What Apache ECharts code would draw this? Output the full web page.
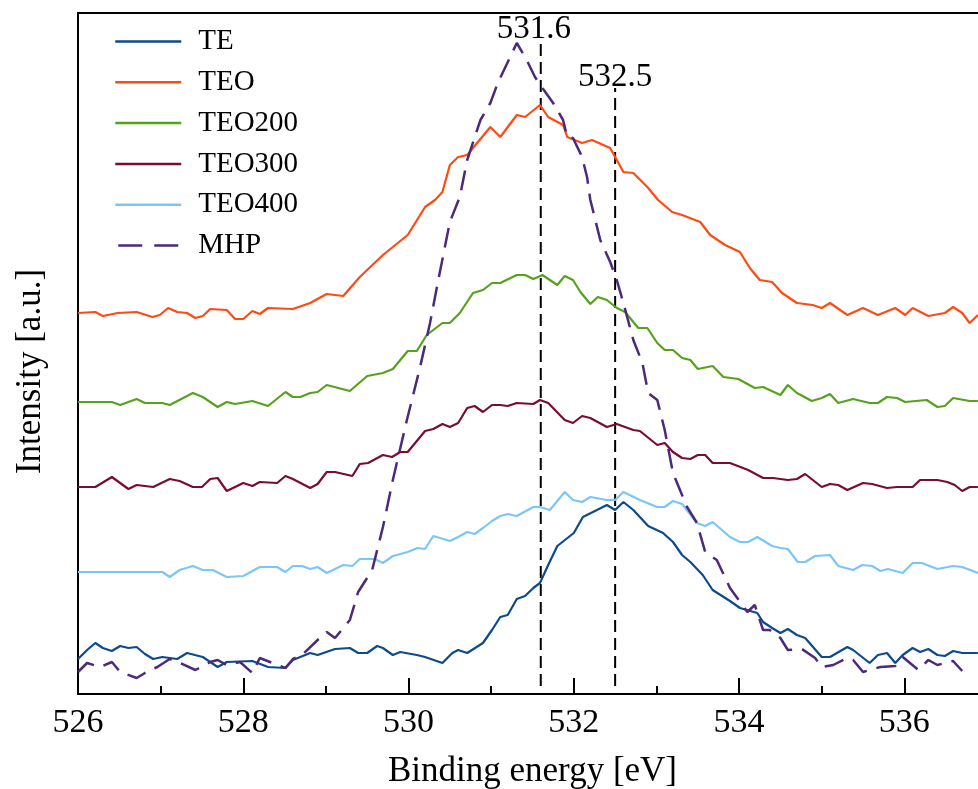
<!DOCTYPE html>
<html>
<head>
<meta charset="utf-8">
<script src="https://cdn.jsdelivr.net/npm/echarts@6/dist/echarts.min.js"></script>
<style>
html,body{margin:0;padding:0;background:#fff;overflow:hidden;}
#chart{width:978px;height:789px;}
</style>
</head>
<body>
<div id="chart"></div>
<script>
// ---- data (binding energy in eV, intensity in arbitrary units) ----
const teX = [526.00,526.11,526.21,526.30,526.41,526.51,526.61,526.71,526.81,526.91,527.02,527.20,527.32,527.51,527.69,527.80,528.11,528.30,528.51,528.60,528.81,528.90,529.11,529.29,529.39,529.50,529.62,529.69,529.81,529.90,530.10,530.20,530.41,530.53,530.60,530.71,530.90,531.01,531.11,531.20,531.31,531.41,531.51,531.59,531.69,531.80,532.00,532.11,532.28,532.40,532.50,532.60,532.72,532.90,533.08,533.20,533.31,533.41,533.56,533.68,533.89,534.01,534.22,534.29,534.40,534.50,534.59,534.70,534.80,535.00,535.10,535.31,535.38,535.58,535.68,535.79,535.89,535.98,536.10,536.19,536.29,536.40,536.49,536.59,536.70,536.89];
const teY = [35,44,51,46,43,48,46,47,40,35,37,35,41,37,27,32,33,27,26,34,41,39,45,46,41,41,48,46,39,42,39,37,31,41,44,41,51,64,77,79,95,98,106,111,129,148,161,177,184,189,184,192,184,168,161,152,139,132,119,104,93,86,81,72,66,61,65,59,56,37,37,47,44,31,39,41,31,39,46,42,45,39,38,43,41,41];

const teoX = [526.00,526.21,526.30,526.48,526.71,526.90,526.99,527.09,527.20,527.32,527.42,527.51,527.60,527.80,527.90,528.00,528.11,528.20,528.30,528.60,528.81,529.01,529.21,529.41,529.69,529.99,530.20,530.32,530.41,530.50,530.60,530.71,530.99,531.11,531.31,531.41,531.59,531.69,531.87,531.92,532.10,532.22,532.44,532.60,532.72,532.89,533.02,533.19,533.31,533.53,533.65,533.83,534.01,534.13,534.25,534.40,534.52,534.70,534.89,535.00,535.10,535.31,535.50,535.68,535.89,536.01,536.10,536.29,536.49,536.59,536.70,536.79,536.89];
const teoY = [381,382,378,381,382,377,379,386,382,381,376,378,385,384,375,375,383,380,386,385,391,400,398,417,439,459,487,494,502,529,537,539,567,557,579,577,589,577,569,557,551,554,546,522,521,507,494,482,479,472,459,449,442,426,414,412,401,391,389,386,391,379,386,379,386,379,386,378,381,387,381,371,379];

const teo200X = [526.00,526.41,526.51,526.71,526.81,527.02,527.11,527.39,527.51,527.69,527.80,527.90,528.11,528.30,528.51,528.60,528.69,528.81,528.90,529.01,529.29,529.50,529.69,529.81,529.99,530.10,530.22,530.41,530.50,530.62,530.78,530.90,531.01,531.11,531.31,531.41,531.51,531.62,531.80,531.89,531.99,532.08,532.20,532.29,532.40,532.52,532.62,532.78,532.89,533.01,533.10,533.20,533.31,533.41,533.50,533.68,533.81,533.99,534.19,534.29,534.50,534.59,534.70,534.88,535.00,535.10,535.20,535.38,535.58,535.68,535.79,535.91,536.01,536.27,536.40,536.49,536.59,536.79,536.89];
const teo200Y = [292,292,289,295,291,291,289,301,297,287,292,290,293,288,302,297,297,301,302,309,303,318,321,325,343,343,359,371,371,381,401,404,411,411,419,419,415,419,409,418,414,402,390,397,394,386,382,366,366,351,344,344,336,334,325,328,317,315,306,307,299,309,301,293,296,300,291,295,291,291,297,296,292,294,287,288,296,293,293];

const teo300X = [526.00,526.21,526.41,526.61,526.71,526.91,527.11,527.23,527.39,527.50,527.60,527.69,527.80,528.00,528.11,528.20,528.41,528.51,528.60,528.81,528.90,529.01,529.11,529.32,529.41,529.51,529.69,529.80,529.90,529.99,530.20,530.30,530.41,530.50,530.60,530.71,530.80,530.90,531.01,531.11,531.20,531.31,531.51,531.59,531.69,531.89,531.99,532.10,532.20,532.40,532.52,532.72,532.80,533.01,533.10,533.20,533.31,533.41,533.50,533.59,533.68,533.89,534.11,534.29,534.41,534.59,534.70,534.80,535.00,535.10,535.20,535.31,535.50,535.61,535.79,535.91,536.10,536.19,536.40,536.52,536.61,536.70,536.79,536.89];
const teo300Y = [207,207,217,205,209,207,215,213,207,207,215,216,203,211,208,212,211,218,215,206,210,222,222,218,230,231,239,237,242,242,263,265,270,267,271,286,288,282,289,289,288,291,290,294,291,274,271,278,276,267,270,264,263,249,251,242,236,235,239,239,231,231,224,216,216,214,215,220,207,210,209,204,211,210,206,207,207,214,214,212,209,203,207,207];

const teo400X = [526.00,527.02,527.11,527.23,527.39,527.51,527.63,527.80,528.00,528.20,528.41,528.51,528.60,528.71,528.81,528.90,529.01,529.21,529.32,529.41,529.59,529.69,529.81,529.99,530.11,530.20,530.30,530.50,530.60,530.71,530.80,530.90,531.01,531.11,531.20,531.31,531.51,531.59,531.71,531.89,531.99,532.10,532.20,532.40,532.50,532.60,532.80,533.01,533.10,533.20,533.31,533.49,533.59,533.68,533.89,534.01,534.11,534.22,534.40,534.50,534.59,534.71,534.80,534.92,535.10,535.20,535.38,535.49,535.61,535.71,535.80,535.98,536.10,536.21,536.40,536.59,536.70,536.89];
const teo400Y = [122,122,117,124,128,124,124,117,118,127,127,122,128,128,125,127,121,129,128,135,135,131,138,142,146,145,158,153,157,162,160,166,173,178,180,178,187,187,184,202,194,192,197,194,194,202,194,187,187,193,190,171,168,172,157,152,152,157,148,146,145,132,132,138,139,128,124,129,128,123,125,121,131,131,125,128,127,121];

const mhpX = [526.00,526.11,526.27,526.41,526.51,526.71,526.81,526.96,527.11,527.21,527.42,527.60,527.69,527.80,527.96,528.11,528.20,528.51,528.60,528.71,528.90,529.01,529.11,529.29,529.39,529.56,529.69,529.81,529.98,530.14,530.26,530.36,530.50,530.62,530.71,530.87,530.99,531.08,531.31,531.43,531.53,531.62,531.75,531.87,531.92,531.99,532.10,532.16,532.20,532.32,532.44,532.52,532.60,532.72,532.83,532.90,533.01,533.10,533.20,533.37,533.49,533.59,533.73,533.89,534.10,534.19,534.29,534.37,534.50,534.59,534.76,534.92,535.00,535.14,535.31,535.38,535.50,535.71,535.89,535.98,536.17,536.29,536.40,536.59,536.70];
const mhpY = [22,31,27,32,22,16,21,27,35,32,24,32,34,29,32,21,36,26,35,39,54,62,56,74,102,124,167,214,274,327,371,414,472,497,534,574,591,611,651,634,617,606,591,574,557,556,537,517,494,454,432,414,391,354,331,301,294,264,221,187,171,142,134,106,82,89,64,64,56,44,45,36,27,29,36,34,22,27,28,37,24,34,29,33,23];

const seriesNames = ['TE','TEO','TEO200','TEO300','TEO400','MHP'];
const seriesColors = ['#0d4a8c','#ff4a12','#56a21c','#7a0c2e','#7cc6f7','#4b2a7c'];

const refPeaks = [531.6, 532.5];     // eV, dashed reference lines
const refTops = [654, 606];          // top of each reference line (a.u.)
const refBottom = 8;

const xTicks = [526,528,530,532,534,536];

// ---- chart ----
const serif = '"Times New Roman", "Liberation Serif", serif';
const zip = (xs, ys) => xs.map((x, i) => [x, ys[i]]);
const xsAll = [teX, teoX, teo200X, teo300X, teo400X, mhpX];
const ysAll = [teY, teoY, teo200Y, teo300Y, teo400Y, mhpY];

const series = seriesNames.map((name, i) => ({
  name: name,
  type: 'line',
  data: zip(xsAll[i], ysAll[i]),
  symbol: 'none',
  smooth: false,
  z: name === 'MHP' ? 4 : 3,
  color: seriesColors[i],
  lineStyle: {
    color: seriesColors[i],
    width: name === 'MHP' ? 2.5 : 2.2,
    type: name === 'MHP' ? [20, 10] : 'solid'
  }
}));

refPeaks.forEach((p, i) => {
  series.push({
    name: 'ref' + i,
    type: 'line',
    symbol: 'circle',
    symbolSize: 0,
    z: 2,
    lineStyle: { color: '#000', width: 2, type: [12, 6] },
    label: { show: false },
    data: [
      [p, refBottom],
      { value: [p, refTops[i]],
        label: { show: true, position: 'top', distance: 1, offset: [i === 0 ? -7 : 0, 7],
                 formatter: String(p), color: '#000', fontSize: 33, fontFamily: serif } }
    ],
    silent: true
  });
});

const legendData = seriesNames.map(n => n === 'MHP'
  ? { name: n, lineStyle: { type: [24, 12], dashOffset: 33, width: 2.5 } }
  : { name: n });

const chart = echarts.init(document.getElementById('chart'), null, { renderer: 'canvas' });
chart.setOption({
  animation: false,
  backgroundColor: '#fff',
  grid: { left: 78, right: -9, top: 13, bottom: 95, containLabel: false, outerBoundsMode: 'none' },
  legend: {
    data: legendData,
    orient: 'vertical',
    left: 109,
    top: 22,
    itemWidth: 66,
    itemHeight: 28,
    itemGap: 11.8,
    itemStyle: { opacity: 0 },
    lineStyle: { width: 2.5 },
    textStyle: { fontFamily: serif, fontSize: 29, color: '#000', lineHeight: 28, padding: [0, 0, 0, 12] }
  },
  xAxis: [{
    type: 'value',
    min: 526,
    max: 537,
    interval: 2,
    name: 'Binding energy [eV]',
    nameLocation: 'middle',
    nameGap: 60,
    nameTextStyle: { fontFamily: serif, fontSize: 35, color: '#000' },
    axisLine: { show: true, lineStyle: { color: '#000', width: 2 } },
    axisTick: { show: true, inside: true, length: 16, lineStyle: { color: '#000', width: 2 } },
    minorTick: { show: true, splitNumber: 2, length: 8, lineStyle: { color: '#000', width: 2 } },
    splitLine: { show: false },
    axisLabel: {
      fontFamily: serif, fontSize: 34, color: '#000', margin: 12,
      showMaxLabel: false,
      formatter: v => (xTicks.indexOf(v) >= 0 ? String(v) : '')
    }
  }, {
    type: 'value',
    position: 'top',
    min: 526,
    max: 537,
    axisLine: { show: true, lineStyle: { color: '#000', width: 2 } },
    axisTick: { show: false },
    axisLabel: { show: false },
    splitLine: { show: false }
  }],
  yAxis: {
    type: 'value',
    min: 0,
    max: 681,
    name: 'Intensity [a.u.]',
    nameLocation: 'middle',
    nameGap: 30,
    nameTextStyle: { fontFamily: serif, fontSize: 35, color: '#000', padding: [0, 36, 0, 0] },
    axisLine: { show: true, lineStyle: { color: '#000', width: 2 } },
    axisTick: { show: false },
    axisLabel: { show: false },
    splitLine: { show: false }
  },
  series: series
});
</script>
</body>
</html>
